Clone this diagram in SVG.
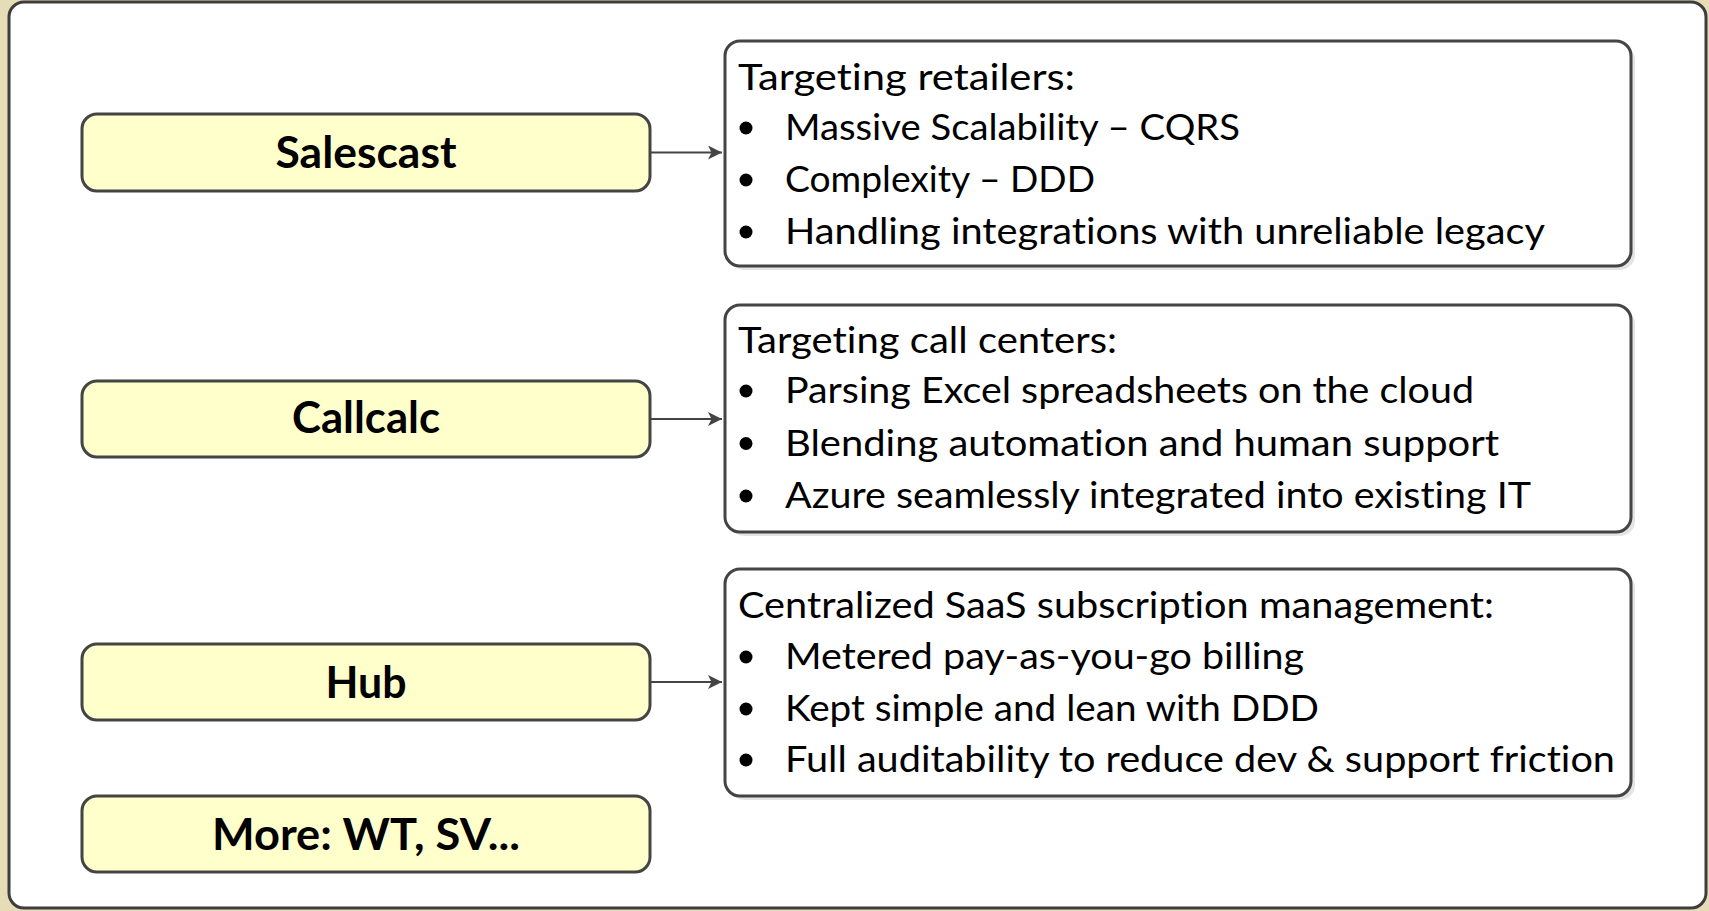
<svg xmlns="http://www.w3.org/2000/svg" width="1709" height="911" viewBox="0 0 1709 911">
<defs>
<style>
.frame{fill:#ffffff;stroke:#3d3d3d;stroke-width:3}
.prod{fill:#ffffcc;stroke:#444444;stroke-width:3}
.desc{fill:#ffffff;stroke:#444444;stroke-width:3}
.shadow{fill:#e4e4e4}
.lbl{font-family:Lato,"Liberation Sans",sans-serif;font-weight:bold;font-size:44px;fill:#000;text-anchor:middle;font-variant-ligatures:none}
.txt{font-family:Lato,"Liberation Sans",sans-serif;font-size:37px;fill:#000;font-variant-ligatures:none}
.bul{fill:#000}
.conn{stroke:#444444;stroke-width:2;fill:none}
</style>
<marker id="arr" viewBox="0 0 10 10" refX="10" refY="5" markerWidth="16" markerHeight="14" markerUnits="userSpaceOnUse" orient="auto">
<path d="M0,0 L10,5 L0,10 L2.5,5 z" fill="#444444"/>
</marker>
</defs>
<rect x="0" y="0" width="1709" height="911" fill="#e7dcb8"/>
<rect id="frame" class="frame" x="9" y="2" width="1697" height="906" rx="15"/>

<g id="salescast">
<rect class="prod" x="82" y="114" width="568" height="77" rx="15"/>
<text class="lbl" x="366" y="168" textLength="181" lengthAdjust="spacingAndGlyphs">Salescast</text>
</g>
<g id="callcalc">
<rect class="prod" x="82" y="381" width="568" height="76" rx="15"/>
<text class="lbl" x="366" y="433" textLength="148" lengthAdjust="spacingAndGlyphs">Callcalc</text>
</g>
<g id="hub">
<rect class="prod" x="82" y="644" width="568" height="76" rx="15"/>
<text class="lbl" x="366" y="698" textLength="81" lengthAdjust="spacingAndGlyphs">Hub</text>
</g>
<g id="more">
<rect class="prod" x="82" y="796" width="568" height="76" rx="15"/>
<text class="lbl" x="366" y="850" textLength="308" lengthAdjust="spacingAndGlyphs">More: WT, SV...</text>
</g>

<g id="desc-salescast">
<rect class="shadow" x="729" y="45" width="906" height="225" rx="15"/>
<rect class="desc" x="725" y="41" width="906" height="225" rx="15"/>
<text class="txt" x="738" y="90" textLength="337" lengthAdjust="spacingAndGlyphs">Targeting retailers:</text>
<circle class="bul" cx="746" cy="128" r="6.5"/>
<text class="txt" x="785" y="140" textLength="455" lengthAdjust="spacingAndGlyphs">Massive Scalability – CQRS</text>
<circle class="bul" cx="746" cy="180" r="6.5"/>
<text class="txt" x="785" y="192" textLength="310" lengthAdjust="spacingAndGlyphs">Complexity – DDD</text>
<circle class="bul" cx="746" cy="232" r="6.5"/>
<text class="txt" x="785" y="244" textLength="760" lengthAdjust="spacingAndGlyphs">Handling integrations with unreliable legacy</text>
</g>
<g id="desc-callcalc">
<rect class="shadow" x="729" y="309" width="906" height="227" rx="15"/>
<rect class="desc" x="725" y="305" width="906" height="227" rx="15"/>
<text class="txt" x="738" y="353" textLength="379" lengthAdjust="spacingAndGlyphs">Targeting call centers:</text>
<circle class="bul" cx="746" cy="391" r="6.5"/>
<text class="txt" x="785" y="403" textLength="689" lengthAdjust="spacingAndGlyphs">Parsing Excel spreadsheets on the cloud</text>
<circle class="bul" cx="746" cy="443.5" r="6.5"/>
<text class="txt" x="785" y="455.5" textLength="714" lengthAdjust="spacingAndGlyphs">Blending automation and human support</text>
<circle class="bul" cx="746" cy="496" r="6.5"/>
<text class="txt" x="785" y="508" textLength="746" lengthAdjust="spacingAndGlyphs">Azure seamlessly integrated into existing IT</text>
</g>
<g id="desc-hub">
<rect class="shadow" x="729" y="573" width="906" height="227" rx="15"/>
<rect class="desc" x="725" y="569" width="906" height="227" rx="15"/>
<text class="txt" x="738" y="618" textLength="756" lengthAdjust="spacingAndGlyphs">Centralized SaaS subscription management:</text>
<circle class="bul" cx="746" cy="657" r="6.5"/>
<text class="txt" x="785" y="669" textLength="519" lengthAdjust="spacingAndGlyphs">Metered pay-as-you-go billing</text>
<circle class="bul" cx="746" cy="709" r="6.5"/>
<text class="txt" x="785" y="721" textLength="534" lengthAdjust="spacingAndGlyphs">Kept simple and lean with DDD</text>
<circle class="bul" cx="746" cy="760" r="6.5"/>
<text class="txt" x="785" y="772" textLength="830" lengthAdjust="spacingAndGlyphs">Full auditability to reduce dev &amp; support friction</text>
</g>

<g id="connectors">
<line class="conn" x1="651" y1="152.5" x2="722" y2="152.5" marker-end="url(#arr)"/>
<line class="conn" x1="651" y1="419" x2="722" y2="419" marker-end="url(#arr)"/>
<line class="conn" x1="651" y1="682" x2="722" y2="682" marker-end="url(#arr)"/>
</g>
</svg>
